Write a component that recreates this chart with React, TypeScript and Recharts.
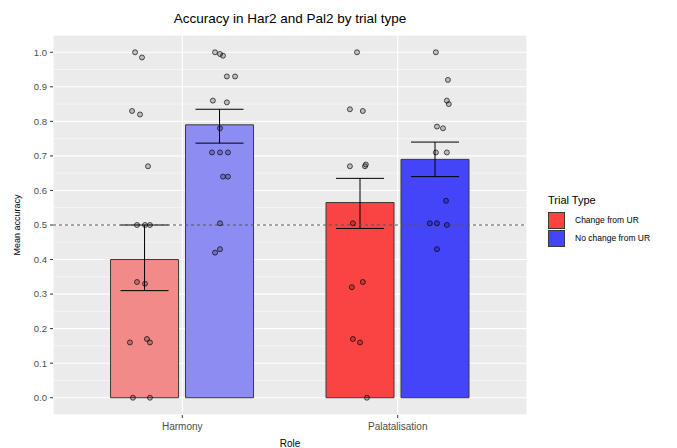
import React from 'react';
import { ComposedChart, Bar, Cell, ErrorBar, Scatter, XAxis, YAxis, CartesianGrid, ReferenceLine, Label } from 'recharts';

// roles on the x axis (ggplot-style discrete positions 1 and 2)
const roles = ['Harmony', 'Palatalisation'];
const rolePos = [1, 2];

// mean accuracy + error bar ends, per role
const changeMean = [0.40, 0.565];
const changeLow = [0.31, 0.49];
const changeHigh = [0.50, 0.635];
const noChangeMean = [0.79, 0.69];
const noChangeLow = [0.737, 0.64];
const noChangeHigh = [0.835, 0.74];

// individual participant points (jittered x, accuracy)
const harmChangeX = [0.781, 0.813, 0.767, 0.804, 0.841, 0.790, 0.827, 0.850, 0.790, 0.827, 0.757, 0.836, 0.850, 0.771, 0.850];
const harmChangeY = [1.0, 0.985, 0.83, 0.82, 0.67, 0.5, 0.5, 0.5, 0.335, 0.33, 0.16, 0.17, 0.16, 0.0, 0.0];
const harmNoChangeX = [1.152, 1.175, 1.189, 1.207, 1.245, 1.142, 1.207, 1.175, 1.138, 1.175, 1.212, 1.189, 1.212, 1.175, 1.152, 1.175];
const harmNoChangeY = [1.0, 0.995, 0.99, 0.93, 0.93, 0.86, 0.855, 0.78, 0.71, 0.71, 0.71, 0.64, 0.64, 0.505, 0.42, 0.43];
const palChangeX = [1.811, 1.778, 1.838, 1.778, 1.848, 1.852, 1.792, 1.787, 1.838, 1.792, 1.825, 1.857];
const palChangeY = [1.0, 0.835, 0.83, 0.67, 0.67, 0.675, 0.505, 0.32, 0.335, 0.17, 0.16, 0.0];
const palNoChangeX = [2.177, 2.233, 2.228, 2.237, 2.182, 2.210, 2.177, 2.228, 2.224, 2.149, 2.182, 2.228, 2.182];
const palNoChangeY = [1.0, 0.92, 0.86, 0.85, 0.785, 0.78, 0.71, 0.71, 0.57, 0.505, 0.505, 0.5, 0.43];

const yTicks = [0, 0.1, 0.2, 0.3, 0.4, 0.5, 0.6, 0.7, 0.8, 0.9, 1.0];
const yMinor = [0.05, 0.15, 0.25, 0.35, 0.45, 0.55, 0.65, 0.75, 0.85, 0.95];

const changeColors = ['#F28A8A', '#FA4444'];
const noChangeColors = ['#8C8CF3', '#4444F8'];

const barData = rolePos.map((x, i) => ({
  x,
  change: changeMean[i],
  changeErr: [changeMean[i] - changeLow[i], changeHigh[i] - changeMean[i]],
  noChange: noChangeMean[i],
  noChangeErr: [noChangeMean[i] - noChangeLow[i], noChangeHigh[i] - noChangeMean[i]],
}));

const points = [
  ...harmChangeX.map((x, i) => ({ x, y: harmChangeY[i] })),
  ...harmNoChangeX.map((x, i) => ({ x, y: harmNoChangeY[i] })),
  ...palChangeX.map((x, i) => ({ x, y: palChangeY[i] })),
  ...palNoChangeX.map((x, i) => ({ x, y: palNoChangeY[i] })),
];

const dot = (props: any) => (
  <circle cx={props.cx} cy={props.cy} r={2.5} fill="#000" fillOpacity={0.2} stroke="#000" strokeOpacity={0.65} strokeWidth={1} />
);

const font = 'Liberation Sans, Arial, sans-serif';

export default function App() {
  return (
    <div style={{ position: 'absolute', left: 0, top: 0, width: 677, height: 448, background: '#fff', fontFamily: font }}>
      <div style={{ position: 'absolute', left: 53, width: 474, top: 11, textAlign: 'center', fontSize: 13.5, color: '#000' }}>
        Accuracy in Har2 and Pal2 by trial type
      </div>
      <ComposedChart width={677} height={448} data={barData} margin={{ top: 35, right: 150, bottom: 0, left: 0 }} barGap={7}>
        <CartesianGrid fill="#EBEBEB" stroke="#fff" strokeWidth={1.1} />
        {/* minor gridlines from a hidden axis with the same domain */}
        <CartesianGrid yAxisId="minor" vertical={false} stroke="#fff" strokeWidth={0.5} />
        <XAxis
          type="number"
          dataKey="x"
          domain={[0.4, 2.6]}
          ticks={rolePos}
          allowDataOverflow
          tickFormatter={(v: number) => roles[rolePos.indexOf(v)] ?? ''}
          axisLine={false}
          tickSize={3}
          tickMargin={5}
          tickLine={{ stroke: '#333' }}
          tick={{ fill: '#4D4D4D', fontSize: 10, fontFamily: font }}
          height={33}
        >
          <Label value="Role" position="insideBottom" offset={1} style={{ fontSize: 10, fill: '#000', fontFamily: font }} />
        </XAxis>
        <XAxis xAxisId="pts" type="number" dataKey="x" domain={[0.4, 2.6]} allowDataOverflow hide />
        <YAxis
          type="number"
          domain={[-0.05, 1.05]}
          ticks={yTicks}
          allowDataOverflow
          tickFormatter={(v: number) => v.toFixed(1)}
          axisLine={false}
          tickSize={3}
          tickMargin={3}
          tickLine={{ stroke: '#333' }}
          tick={{ fill: '#4D4D4D', fontSize: 9.5, fontFamily: font }}
          width={53}
        >
          <Label value="Mean accuracy" angle={-90} position="center" dx={-10} style={{ fontSize: 9, fill: '#000', fontFamily: font, textAnchor: 'middle' }} />
        </YAxis>
        <YAxis yAxisId="minor" type="number" domain={[-0.05, 1.05]} ticks={yMinor} allowDataOverflow hide />
        <Bar dataKey="change" barSize={68} stroke="#3A3A3A" strokeWidth={1} isAnimationActive={false}>
          {barData.map((d, i) => (
            <Cell key={i} fill={changeColors[i]} />
          ))}
          <ErrorBar dataKey="changeErr" width={24} stroke="#000" strokeWidth={1} direction="y" />
        </Bar>
        <Bar dataKey="noChange" barSize={68} stroke="#3A3A3A" strokeWidth={1} isAnimationActive={false}>
          {barData.map((d, i) => (
            <Cell key={i} fill={noChangeColors[i]} />
          ))}
          <ErrorBar dataKey="noChangeErr" width={24} stroke="#000" strokeWidth={1} direction="y" />
        </Bar>
        <Scatter xAxisId="pts" data={points} dataKey="y" shape={dot} isAnimationActive={false} />
        <ReferenceLine y={0.5} stroke="#555" strokeWidth={1} strokeDasharray="3 3" />
      </ComposedChart>
      <div style={{ position: 'absolute', left: 548, top: 194, fontSize: 11, color: '#000' }}>Trial Type</div>
      <div style={{ position: 'absolute', left: 548, top: 212, width: 17, height: 17, background: '#FA4444', border: '1px solid #3A3A3A', boxSizing: 'border-box' }} />
      <div style={{ position: 'absolute', left: 548, top: 230, width: 17, height: 17, background: '#4444F8', border: '1px solid #3A3A3A', boxSizing: 'border-box' }} />
      <div style={{ position: 'absolute', left: 575, top: 215, fontSize: 8.5, color: '#000' }}>Change from UR</div>
      <div style={{ position: 'absolute', left: 575, top: 233, fontSize: 8.5, color: '#000' }}>No change from UR</div>
    </div>
  );
}
